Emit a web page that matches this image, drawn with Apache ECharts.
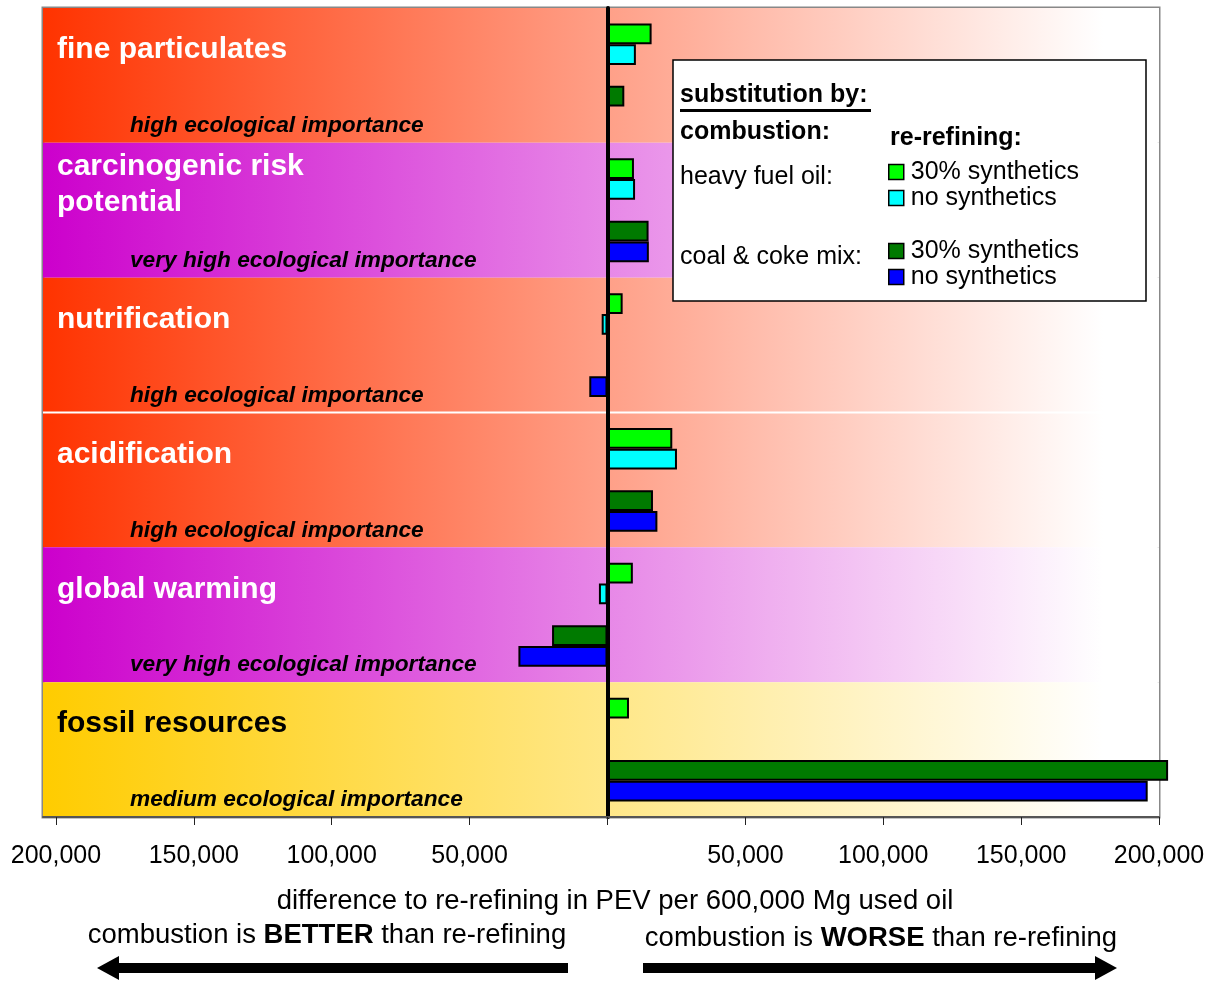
<!DOCTYPE html>
<html>
<head>
<meta charset="utf-8">
<script src="https://cdn.jsdelivr.net/npm/echarts@6/dist/echarts.min.js"></script>
<style>
html, body { margin: 0; padding: 0; background: #fff; }
#chart { width: 1216px; height: 983px; }
</style>
</head>
<body>
<div id="chart"></div>
<script>
const categories = ['fine particulates', 'carcinogenic risk\npotential', 'nutrification', 'acidification', 'global warming', 'fossil resources']
const importance = ['high ecological importance', 'very high ecological importance', 'high ecological importance', 'high ecological importance', 'very high ecological importance', 'medium ecological importance']
// difference to re-refining in PEV per 600,000 Mg used oil
const hfo30 = [16000, 9600, 5500, 23500, 9200, 7800]
const hfoNo = [10300, 10000, -2100, 25200, -3100, 0]
const coal30 = [6100, 14900, 700, 16500, -20100, 203300]
const coalNo = [0, 15000, -6600, 18100, -32300, 195900]
const tickValues = [-200000, -150000, -100000, -50000, 0, 50000, 100000, 150000, 200000]
const labelValues = tickValues.filter(v => v !== 0)

const FONT = '"Liberation Sans", Arial, sans-serif'
const bandColor = {
    'fine particulates': '#ff3300',
    'carcinogenic risk\npotential': '#cc00cc',
    'nutrification': '#ff3300',
    'acidification': '#ff3300',
    'global warming': '#cc00cc',
    'fossil resources': '#ffcc00'
}
const darkTitle = ['fossil resources']
const ruleAbove = ['acidification']

const fmt = v => String(Math.abs(v)).replace(/\B(?=(\d{3})+(?!\d))/g, ',')

const barSeries = (name, data, color) => ({
    name: name,
    type: 'bar',
    data: data,
    clip: false,
    barGap: 0,
    barCategoryGap: '23%',
    itemStyle: { color: color, borderColor: '#000', borderWidth: 2 },
    z: 2
})

const initChart = () => {
    const myChart = echarts.init(document.getElementById('chart'))
    const legendBase = {
        orient: 'vertical',
        left: 888,
        padding: 0,
        itemWidth: 15,
        itemHeight: 15,
        itemGap: 0,
        icon: 'rect',
        selectedMode: false,
        z: 60,
        itemStyle: { borderColor: '#000', borderWidth: 1.5 },
        textStyle: { fontSize: 25, fontFamily: FONT, color: '#000', lineHeight: 26, padding: [0, 0, 0, 2] },
        formatter: name => name.split(': ')[1]
    }
    const legendText = (text, x, y, bold) => ({
        type: 'text', z: 51, x: x, y: y,
        style: { text: text, font: (bold ? 'bold ' : '') + '25px ' + FONT, fill: '#000', verticalAlign: 'middle' }
    })
    const richNote = (text, x, y) => ({
        type: 'text', x: x, y: y,
        style: {
            text: text,
            align: 'center', verticalAlign: 'middle',
            rich: {
                n: { fontSize: 27.5, fontFamily: FONT, fill: '#000' },
                b: { fontSize: 27.5, fontFamily: FONT, fontWeight: 'bold', fill: '#000' }
            }
        }
    })
    const option = {
        animation: false,
        grid: {
            left: 43, right: 57, top: 8, bottom: 166,
            show: true, borderColor: '#888', borderWidth: 3,
            outerBoundsMode: 'none'
        },
        xAxis: {
            type: 'value',
            min: -204700,
            max: 200000,
            z: 10,
            name: 'difference to re-refining in PEV per 600,000 Mg used oil',
            nameLocation: 'middle',
            nameGap: 70,
            nameTextStyle: { fontSize: 27.5, fontFamily: FONT, color: '#000', padding: [0, 0, 0, 28] },
            axisLine: { show: true, onZero: false, lineStyle: { color: '#555', width: 2 } },
            axisTick: { show: true, customValues: tickValues, length: 8, lineStyle: { color: '#222', width: 1 } },
            axisLabel: { customValues: labelValues, formatter: fmt, fontSize: 25, fontFamily: FONT, color: '#000', margin: 27 },
            splitLine: { show: false }
        },
        yAxis: {
            type: 'category',
            data: categories,
            inverse: true,
            z: 10,
            axisLine: { show: true, onZero: true, lineStyle: { color: '#000', width: 4 } },
            axisTick: { show: false },
            axisLabel: { show: false },
            splitLine: { show: false }
        },
        legend: [
            Object.assign({}, legendBase, { top: 159, data: ['heavy fuel oil: 30% synthetics', 'heavy fuel oil: no synthetics'] }),
            Object.assign({}, legendBase, { top: 238, data: ['coal & coke mix: 30% synthetics', 'coal & coke mix: no synthetics'] })
        ],
        series: [
            {
                type: 'custom',
                silent: true,
                z: 1,
                encode: { x: 0, y: 1 },
                data: categories.map((c, i) => [0, i]),
                renderItem: (params, api) => {
                    const i = api.value(1)
                    const cs = params.coordSys
                    const c = api.coord([0, i])
                    const h = api.size([0, 1])[1]
                    const top = c[1] - h / 2
                    const name = categories[i]
                    const children = [
                        {
                            type: 'rect',
                            shape: { x: cs.x, y: top, width: cs.width, height: h },
                            style: {
                                fill: new echarts.graphic.LinearGradient(0, 0, 1, 0, [
                                    { offset: 0, color: bandColor[name] },
                                    { offset: 0.95, color: '#ffffff' }
                                ])
                            }
                        },
                        {
                            type: 'text',
                            x: cs.x + 14,
                            y: top + 42,
                            style: {
                                text: name,
                                fill: darkTitle.includes(name) ? '#000' : '#fff',
                                font: 'bold 30px ' + FONT,
                                lineHeight: 36,
                                verticalAlign: 'middle'
                            }
                        },
                        {
                            type: 'text',
                            x: cs.x + 87,
                            y: top + h - 17,
                            style: {
                                text: importance[i],
                                fill: '#000',
                                font: 'italic bold 22.7px ' + FONT,
                                verticalAlign: 'middle'
                            }
                        }
                    ]
                    if (ruleAbove.includes(name)) {
                        children.push({
                            type: 'line',
                            shape: { x1: cs.x, y1: top, x2: cs.x + cs.width, y2: top },
                            style: { stroke: '#fff', lineWidth: 2 }
                        })
                    }
                    return { type: 'group', children: children }
                }
            },
            barSeries('heavy fuel oil: 30% synthetics', hfo30, '#00ff00'),
            barSeries('heavy fuel oil: no synthetics', hfoNo, '#00ffff'),
            barSeries('gap', categories.map(() => null), 'transparent'),
            barSeries('coal & coke mix: 30% synthetics', coal30, '#007a00'),
            barSeries('coal & coke mix: no synthetics', coalNo, '#0000ff')
        ],
        graphic: [
            { type: 'rect', z: 50, shape: { x: 673, y: 60, width: 473, height: 241 }, style: { fill: '#fff', stroke: '#000', lineWidth: 1.5 } },
            legendText('substitution by:', 680, 95, true),
            { type: 'rect', z: 51, shape: { x: 680, y: 109, width: 191, height: 3 }, style: { fill: '#000' } },
            legendText('combustion:', 680, 132, true),
            legendText('re-refining:', 890, 138, true),
            legendText('heavy fuel oil:', 680, 177, false),
            legendText('coal & coke mix:', 680, 257, false),
            richNote('{n|combustion is }{b|BETTER}{n| than re-refining}', 327, 935),
            richNote('{n|combustion is }{b|WORSE}{n| than re-refining}', 881, 938),
            { type: 'line', shape: { x1: 568, y1: 968, x2: 112, y2: 968 }, style: { stroke: '#000', lineWidth: 10 } },
            { type: 'polygon', shape: { points: [[97, 968], [119, 956], [119, 980]] }, style: { fill: '#000' } },
            { type: 'line', shape: { x1: 643, y1: 968, x2: 1102, y2: 968 }, style: { stroke: '#000', lineWidth: 10 } },
            { type: 'polygon', shape: { points: [[1117, 968], [1095, 956], [1095, 980]] }, style: { fill: '#000' } }
        ]
    }
    myChart.setOption(option)
}
initChart()
</script>
</body>
</html>
